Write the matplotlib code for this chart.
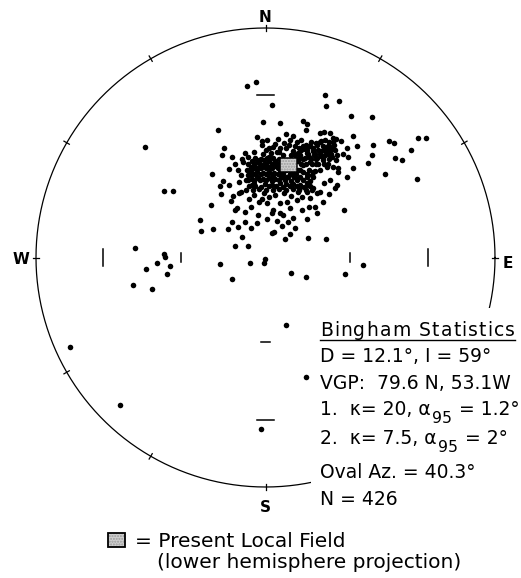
import numpy as np
import matplotlib
matplotlib.use("Agg")
import matplotlib.pyplot as plt
from matplotlib.patches import Rectangle
from matplotlib.transforms import IdentityTransform
from matplotlib.font_manager import FontProperties, findfont, get_font
try:
    from matplotlib.ft2font import LoadFlags
    NO_HINT = LoadFlags.NO_HINTING
except ImportError:
    from matplotlib.ft2font import LOAD_NO_HINTING as NO_HINT

W_PX, H_PX, DPI = 521, 578, 100
NET_R = 229.5                    # net radius in pixels
NET_CX, NET_CY = 265.5, 257.5    # net centre, pixels from top-left

# ---------------------------------------------------------------- data
# Directions plotted on an equal-area net, given as (east, north) in
# percent of the net radius.
far_points = np.array([
    [-7.9, 74.6], [-4.1, 76.4], [3.0, 66.6], [25.9, 70.7], [26.2, 66.0], [32.1, 68.2],
    [37.2, 61.7], [46.5, 61.1], [-1.2, 59.2], [6.4, 58.6], [16.4, 59.3], [18.3, 58.0],
    [17.5, 55.4], [25.4, 54.9], [-20.8, 55.6], [-52.3, 48.3],
    [53.9, 50.7], [55.8, 50.1], [66.5, 52.0], [70.1, 52.0], [47.0, 49.0], [46.5, 44.8],
    [44.8, 41.0], [56.4, 43.2], [59.3, 42.4], [63.6, 46.9], [52.0, 36.5], [65.8, 34.4],
    [-44.1, 28.9], [-40.3, 28.9],
    [8.9, -29.3], [-85.0, -38.9], [17.6, -52.0], [-63.3, -64.1], [-2.0, -74.8],
])

axis_band = np.array([
    [-56.7, 4.0], [-44.0, 0.4], [-44.2, 1.6], [-47.3, -2.5], [-41.4, -3.7], [-52.0, -5.0],
    [-43.0, -7.0], [-57.6, -12.2], [-49.4, -13.8],
    [-20.0, -3.0], [-6.7, -2.2], [-0.2, -0.8], [-0.5, -2.3], [-14.7, -9.2], [11.0, -6.7],
    [17.7, -8.5], [34.6, -7.0], [42.6, -3.3],
])

mid_cluster = np.array([
    [-18.6, 33.4], [-19.8, 31.1], [-16.0, 31.5], [-19.5, 27.5], [-14.0, 26.9], [-15.1, 24.7],
    [-11.4, 28.2], [-10.5, 28.6], [-13.3, 20.7], [-12.5, 21.4], [-23.7, 22.7], [-28.5, 16.2],
    [-28.0, 11.4], [-22.8, 12.5], [-16.4, 12.4], [-14.7, 15.3], [-12.0, 13.5], [-8.8, 15.3],
    [-6.2, 12.8], [-3.8, 15.1], [-10.1, 8.8], [-13.1, 5.1], [-7.5, 5.1], [2.7, 10.5],
    [3.7, 11.1], [8.5, 8.0], [10.5, 10.4], [12.8, 12.8], [7.3, 13.6], [12.1, 17.0],
    [17.9, 16.6], [18.5, 8.5], [26.2, 8.2], [22.4, 19.3], [21.7, 22.1], [15.7, 20.7],
    [34.1, 20.8], [30.2, 30.2], [23.7, 28.6], [22.4, 27.9], [25.4, 32.5], [28.0, 33.7],
    [31.7, 38.9], [27.3, 40.9], [-9.6, 41.7], [-6.4, 35.9], [-3.8, 38.8], [-8.6, 33.7],
    [-6.0, 31.5], [-7.0, 25.7], [-6.2, 22.1], [-2.7, 24.0], [-1.7, 25.7], [0.5, 23.6],
    [1.7, 26.4], [2.7, 19.2], [3.4, 20.7], [6.3, 23.6], [6.3, 19.2], [7.8, 18.5],
    [9.2, 24.3], [13.6, 25.0], [14.3, 28.6], [17.9, 28.6], [18.6, 31.5], [20.8, 30.1],
    [20.1, 35.9], [16.4, 37.3], [13.6, 34.4], [15.0, 30.8], [31.0, 31.7], [35.4, 34.9],
    [-4.8, 27.4], [-0.5, 28.0], [4.2, 27.2], [8.0, 27.9], [11.3, 27.0], [16.0, 26.4],
    [19.5, 25.8], [-8.8, 20.0], [-3.4, 18.6], [0.8, 16.8], [5.0, 16.1], [9.7, 15.3],
    [10.8, 21.5], [18.8, 21.9], [25.0, 24.3], [27.5, 27.5],
])

upper_cluster = np.array([
    [-3.8, 52.5], [-1.7, 48.9], [0.8, 51.1], [1.7, 47.9], [4.1, 49.6], [6.3, 47.9],
    [8.9, 53.7], [10.7, 51.1], [13.6, 50.4], [15.3, 51.3], [14.7, 47.9], [17.6, 48.9],
    [20.5, 47.9], [21.9, 49.9], [23.7, 50.5], [25.9, 51.3], [27.6, 48.4], [29.2, 50.4],
    [30.9, 51.7], [-0.9, 45.0], [1.7, 43.8], [4.9, 46.0], [-2.7, 42.7], [-0.9, 40.2],
    [-4.6, 39.5], [-6.4, 38.0], [-7.5, 35.9], [15.0, 44.6], [17.9, 45.6], [20.8, 46.4],
    [23.7, 45.0], [26.6, 46.4], [28.8, 43.8], [30.9, 42.4], [25.1, 42.4], [22.2, 40.9],
    [19.3, 41.7], [16.4, 40.2], [15.0, 38.0], [17.9, 36.6], [20.8, 37.3], [23.7, 38.0],
    [26.6, 39.5], [29.5, 39.5], [31.7, 37.3], [-3.8, 35.1], [0.5, 36.6], [3.4, 35.1],
    [6.3, 35.9], [9.2, 35.1], [12.1, 35.9],
    [-17.9, 47.5], [-19.0, 44.6], [-14.7, 43.6], [-13.3, 40.7], [-10.3, 43.1], [-7.5, 43.6],
    [-15.7, 38.5], [-23.4, 36.6],
    [32.8, 50.7], [38.0, 53.0], [40.0, 48.6], [35.4, 47.7], [33.9, 45.3], [36.0, 43.7],
    [38.3, 38.9], [23.8, 54.1], [28.1, 54.1], [29.6, 52.2],
    [2.5, 45.6], [7.5, 44.8], [3.2, 48.0], [10.3, 49.0], [12.8, 48.6], [0.0, 47.0],
    [5.4, 51.8], [11.9, 53.0], [-1.5, 50.8], [-5.2, 46.0], [-9.0, 45.4], [-11.8, 38.3],
    [-10.5, 36.0], [-11.7, 33.0],
])

dense_core = np.array([
    [-6.0, 34.3], [-3.4, 34.8], [-1.1, 34.2], [1.6, 34.7], [4.2, 34.4],
    [-5.8, 36.9], [-3.6, 37.3], [-0.9, 36.8], [1.4, 37.2], [3.9, 36.9],
    [-6.2, 39.6], [-3.3, 39.2], [-1.2, 39.7], [1.7, 39.3], [4.1, 39.8],
    [-5.9, 42.1], [-3.5, 41.8], [-0.8, 42.3], [1.5, 41.9], [4.3, 42.2],
    [0.2, 29.6], [3.1, 29.3], [5.8, 29.8], [9.1, 29.4], [12.2, 29.7], [14.8, 29.2],
    [-0.3, 32.1], [2.9, 31.8], [6.2, 32.3], [8.8, 31.9], [11.9, 32.2], [15.2, 31.8],
    [14.0, 42.0], [16.5, 43.1], [19.1, 44.0], [21.4, 45.2], [24.1, 46.4], [26.5, 47.6],
    [14.1, 45.4], [17.0, 47.1], [19.5, 48.4], [22.1, 43.0], [24.4, 44.1], [27.1, 45.0],
    [29.0, 47.1], [6.0, 46.0], [9.0, 47.5], [12.1, 46.6], [8.1, 50.0], [11.0, 44.5],
    [-8.4, 29.5], [-5.6, 29.4], [-2.9, 29.7], [17.6, 29.4], [20.2, 29.6],
    [-7.2, 31.0], [-4.5, 31.1], [-1.8, 30.9], [1.4, 31.0], [4.4, 31.1], [7.5, 30.9],
    [10.6, 31.0], [13.6, 31.1], [16.7, 30.9], [19.4, 31.0],
    [-4.9, 32.2], [18.0, 32.3],
    [-7.8, 33.6], [-5.1, 33.5], [-2.4, 33.7], [0.3, 33.6], [3.0, 33.5], [5.7, 33.6],
    [8.4, 33.7], [11.1, 33.5], [13.8, 33.6], [16.5, 33.7], [19.2, 33.5],
    [7.0, 35.0], [9.8, 35.1], [12.5, 34.9], [15.2, 35.0], [18.0, 35.1], [20.6, 34.9],
    [-7.4, 36.3], [-4.7, 36.2], [-2.1, 36.4], [0.4, 36.3], [2.8, 36.2], [5.3, 36.4],
    [7.8, 36.3], [10.5, 36.2], [13.1, 36.4],
    [-8.0, 38.0], [6.5, 38.0], [9.0, 38.1], [11.8, 37.9], [14.0, 38.0], [18.9, 38.1],
    [21.5, 37.9],
    [-4.8, 39.0], [-2.1, 39.1], [0.3, 38.9], [2.9, 39.0], [5.3, 39.1],
    [-7.6, 40.8], [-4.8, 40.7], [-2.2, 40.9], [0.4, 40.8], [3.0, 40.7], [5.5, 40.9],
    [15.3, 40.8], [17.8, 40.7], [20.3, 40.9], [22.8, 40.8], [25.4, 40.7],
    [-4.6, 43.2], [-1.9, 43.1], [0.7, 43.3], [3.3, 43.2], [5.8, 43.1], [14.8, 43.2],
    [17.4, 43.3], [20.0, 43.1], [22.6, 43.2], [25.2, 43.3], [27.8, 43.1],
    [13.0, 44.8], [18.6, 44.9], [21.2, 44.7], [26.0, 44.8], [28.6, 44.9], [31.2, 44.7],
    [15.4, 46.8], [18.3, 46.7], [22.8, 46.9], [25.4, 46.8], [28.0, 46.7], [30.5, 46.9],
    [16.3, 48.8], [18.9, 48.7], [22.6, 48.9], [25.0, 48.8], [27.2, 48.7], [29.8, 48.9],
    [20.0, 50.5], [24.4, 50.6], [27.6, 50.4],
])

PLF_DEC, PLF_INC = 14.0, 56.0          # present local field direction
GRID_INC = [30, 60]                    # inclination marks on the axes
RIM_AZ = np.arange(0, 360, 30)         # azimuth ticks on the primitive

STATS_TITLE = "Bingham Statistics"
STATS_LINES = [
    [("D = 12.1°, I = 59°", 1.0, 0)],
    [("VGP:  79.6 N, 53.1W", 1.0, 0)],
    [("1.  κ= 20, α", 1.0, 0), ("95", 0.84, -8), (" = 1.2°", 1.0, 0)],
    [("2.  κ= 7.5, α", 1.0, 0), ("95", 0.84, -8), (" = 2°", 1.0, 0)],
    [("Oval Az. = 40.3°", 1.0, 0)],
    [("N = 426", 1.0, 0)],
]
LEGEND_LINE1 = "= Present Local Field"
LEGEND_LINE2 = "(lower hemisphere projection)"


# ---------------------------------------------------------------- helpers
def eq_area(dec, inc):
    r = np.sqrt(2.0) * np.sin(np.radians(90.0 - inc) / 2.0)
    d = np.radians(dec)
    return r * np.sin(d), r * np.cos(d)


def incl_radius(inc):
    return np.sqrt(2.0) * np.sin(np.radians(90.0 - inc) / 2.0)


def px2d(px, py):
    return (px - NET_CX) / NET_R, (NET_CY - py) / NET_R


_font_path = findfont(FontProperties(family="DejaVu Sans"))


def advance_px(s, size_pt):
    font = get_font(_font_path, hinting_factor=1)
    font.set_size(size_pt, DPI)
    total = 0.0
    for ch in s:
        g = font.load_char(ord(ch), flags=NO_HINT)
        total += g.linearHoriAdvance / 65536.0
    return total


fig = plt.figure(figsize=(W_PX / DPI, H_PX / DPI), dpi=DPI)
fig.patch.set_facecolor("white")
ax = fig.add_axes([0, 0, 1, 1])
ax.set_xlim(-NET_CX / NET_R, (W_PX - NET_CX) / NET_R)
ax.set_ylim(-(H_PX - NET_CY) / NET_R, NET_CY / NET_R)
ax.set_aspect("auto")
ax.axis("off")

PIX = IdentityTransform()


def put(px, py_base, s, size, **kw):
    fig.text(px, H_PX - py_base, s, transform=PIX, fontsize=size,
             ha="left", va="baseline", color="black", **kw)


# primitive circle and rim ticks
th = np.linspace(0, 2 * np.pi, 721)
ax.plot(np.cos(th), np.sin(th), color="black", lw=0.9, zorder=1)
for az in RIM_AZ:
    a = np.radians(az)
    ax.plot([0.987 * np.sin(a), 1.014 * np.sin(a)],
            [0.987 * np.cos(a), 1.014 * np.cos(a)], color="black", lw=0.9, zorder=1)

# inclination marks along the N-S and E-W axes
for inc in GRID_INC:
    r = incl_radius(inc)
    h = 0.036 if inc == 30 else 0.02
    for s in (-1, 1):
        ax.plot([s * r, s * r], [-h, h], color="black", lw=1.1, zorder=1)
        ax.plot([-h, h], [s * r, s * r], color="black", lw=1.1, zorder=1)

# data points
pts = np.vstack([far_points, axis_band, mid_cluster, upper_cluster, dense_core]) / 100.0
ax.scatter(pts[:, 0], pts[:, 1], s=16, c="black", linewidths=0, zorder=2)

# present local field square
fx, fy = eq_area(PLF_DEC, PLF_INC)
sw, sh = 17 / NET_R, 14 / NET_R
ax.add_patch(Rectangle((fx - sw / 2, fy - sh / 2), sw, sh, facecolor="#cfcfcf",
                       edgecolor="#9a9a9a", hatch="......", lw=0, zorder=3))
ax.add_patch(Rectangle((fx - sw / 2, fy - sh / 2), sw, sh, facecolor="none",
                       edgecolor="black", lw=1.1, zorder=3))

# blank panel for the statistics block
bx0, by0 = px2d(311, 520)
bx1, by1 = px2d(W_PX + 5, 308)
ax.add_patch(Rectangle((bx0, by0), bx1 - bx0, by1 - by0, facecolor="white",
                       edgecolor="none", zorder=4))

# compass letters
for s, (px, py) in {"N": (265.5, 21.5), "S": (265.5, 511.5),
                    "W": (20.5, 264.5), "E": (507.5, 267.5)}.items():
    fig.text(px, H_PX - py, s, transform=PIX, fontsize=11, fontweight="bold",
             ha="center", va="baseline")

# statistics block
TXT = 13.5
x0 = 320.0
title_w = 195.0
adv = [advance_px(c, TXT) for c in STATS_TITLE]
track = (title_w - sum(adv)) / (len(STATS_TITLE) - 1)
cx = x0
for c, a in zip(STATS_TITLE, adv):
    put(cx, 336, c, TXT)
    cx += a + track
fig.add_artist(plt.Line2D([x0, x0 + title_w], [H_PX - 339.5, H_PX - 339.5],
                          transform=PIX, color="black", lw=1.0))

baselines = [362, 389, 415, 443.5, 478, 505]
for runs, yb in zip(STATS_LINES, baselines):
    cx = x0
    for s, scale, dy in runs:
        put(cx, yb - dy, s, TXT * scale)
        cx += advance_px(s, TXT * scale)

# legend
lx0, ly0 = px2d(108.3, 547.3)
lx1, ly1 = px2d(125.0, 533.3)
ax.add_patch(Rectangle((lx0, ly0), lx1 - lx0, ly1 - ly0, facecolor="#cfcfcf",
                       edgecolor="#9a9a9a", hatch="......", lw=0, zorder=3))
ax.add_patch(Rectangle((lx0, ly0), lx1 - lx0, ly1 - ly0, facecolor="none",
                       edgecolor="black", lw=1.3, zorder=3))
put(135, 546.7, LEGEND_LINE1, 14.5)
put(157, 568, LEGEND_LINE2, 14.5)

fig.savefig("out.png", dpi=DPI, facecolor="white")
